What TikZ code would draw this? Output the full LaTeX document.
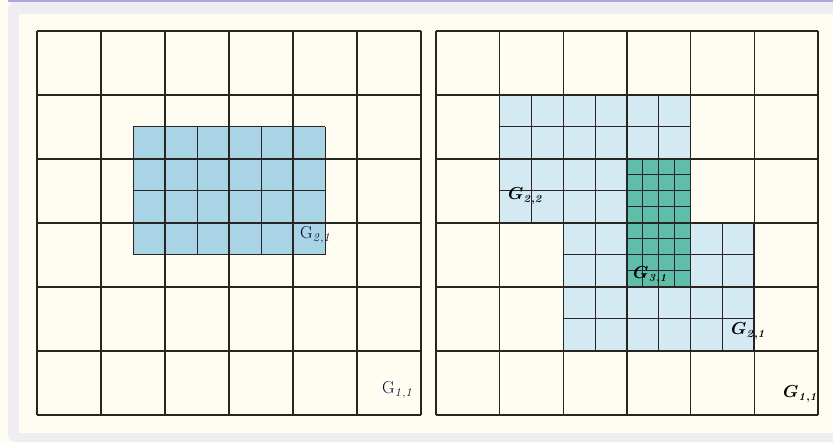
\documentclass[tikz,border=0pt]{standalone}
\usepackage{amsmath,bm}

\definecolor{paper}{RGB}{255,253,242}
\definecolor{framegray}{RGB}{238,237,241}
\definecolor{frameline}{RGB}{176,166,222}
\definecolor{levelone}{RGB}{168,212,229}
\definecolor{leveltwo}{RGB}{211,234,243}
\definecolor{levelthree}{RGB}{94,190,170}
\definecolor{gridink}{RGB}{40,36,36}

\begin{document}
\begin{tikzpicture}[x=1pt, y=1pt,
    coarse/.style={draw=gridink, line width=1.1pt},
    fine/.style={draw=gridink, line width=1pt},
    romanlab/.style={anchor=base west, inner sep=0pt, text=black!80!blue, font=\fontsize{17}{20}\selectfont},
    boldlab/.style={anchor=base west, inner sep=0pt, font=\fontsize{16}{19}\selectfont\boldmath}]

    % frame
    \useasboundingbox (0,0) rectangle (833,442);
    \fill[paper] (0,0) rectangle (833,442);
    \fill[framegray, rounded corners=8pt] (8,0) rectangle (850,440.5);
    \draw[frameline, line width=1.5pt] (8,441) -- (833,441);
    \fill[paper] (19,9) rectangle (833,428);

    % left panel
    \begin{scope}[shift={(37,27)}, x=64pt, y=64pt]
        \fill[levelone] (1.5,2.5) rectangle (4.5,4.5);
        \foreach \i in {1.5,2,...,4.5}
            \draw[fine] (\i,2.5) -- (\i,4.5);
        \foreach \j in {2.5,3,...,4.5}
            \draw[fine] (1.5,\j) -- (4.5,\j);
        \foreach \i in {0,...,6} {
            \draw[coarse] (\i,0) -- (\i,6);
            \draw[coarse] (0,\i) -- (6,\i);
        }
    \end{scope}
    \node[romanlab] (lefttwo) at (300,203) {$\mathrm{G}_{\mathit{2,1}}$};
    \node[romanlab] (leftone) at (382,48) {$\mathrm{G}_{\mathit{1,1}}$};

    % right panel
    \begin{scope}[shift={(436,27)}, x=63.67pt, y=64pt]
        \fill[leveltwo] (1,3) rectangle (4,5);
        \fill[leveltwo] (2,1) rectangle (5,3);
        \fill[levelthree] (3,2) rectangle (4,4);
        % level two, upper patch
        \foreach \i in {1,1.5,...,4}
            \draw[fine] (\i,3) -- (\i,5);
        \foreach \j in {3,3.5,...,5}
            \draw[fine] (1,\j) -- (4,\j);
        % level two, lower patch
        \foreach \i in {2,2.5,...,5}
            \draw[fine] (\i,1) -- (\i,3);
        \foreach \j in {1,1.5,...,3}
            \draw[fine] (2,\j) -- (5,\j);
        % level three
        \foreach \i in {3,3.25,...,4}
            \draw[fine] (\i,2) -- (\i,4);
        \foreach \j in {2,2.25,...,4}
            \draw[fine] (3,\j) -- (4,\j);
        \foreach \i in {0,...,6} {
            \draw[coarse] (\i,0) -- (\i,6);
            \draw[coarse] (0,\i) -- (6,\i);
        }
        \draw[gridink, line width=2pt] (5,1) -- (5,3);
    \end{scope}
    \node[boldlab] (gtwotwo) at (508,242) {$G_{\mathit{2,2}}$};
    \node[boldlab] (gthreeone) at (633,163) {$G_{\mathit{3,1}}$};
    \node[boldlab] (gtwoone) at (731,107) {$G_{\mathit{2,1}}$};
    \node[boldlab] (goneone) at (783,44) {$G_{\mathit{1,1}}$};
\end{tikzpicture}
\end{document}
